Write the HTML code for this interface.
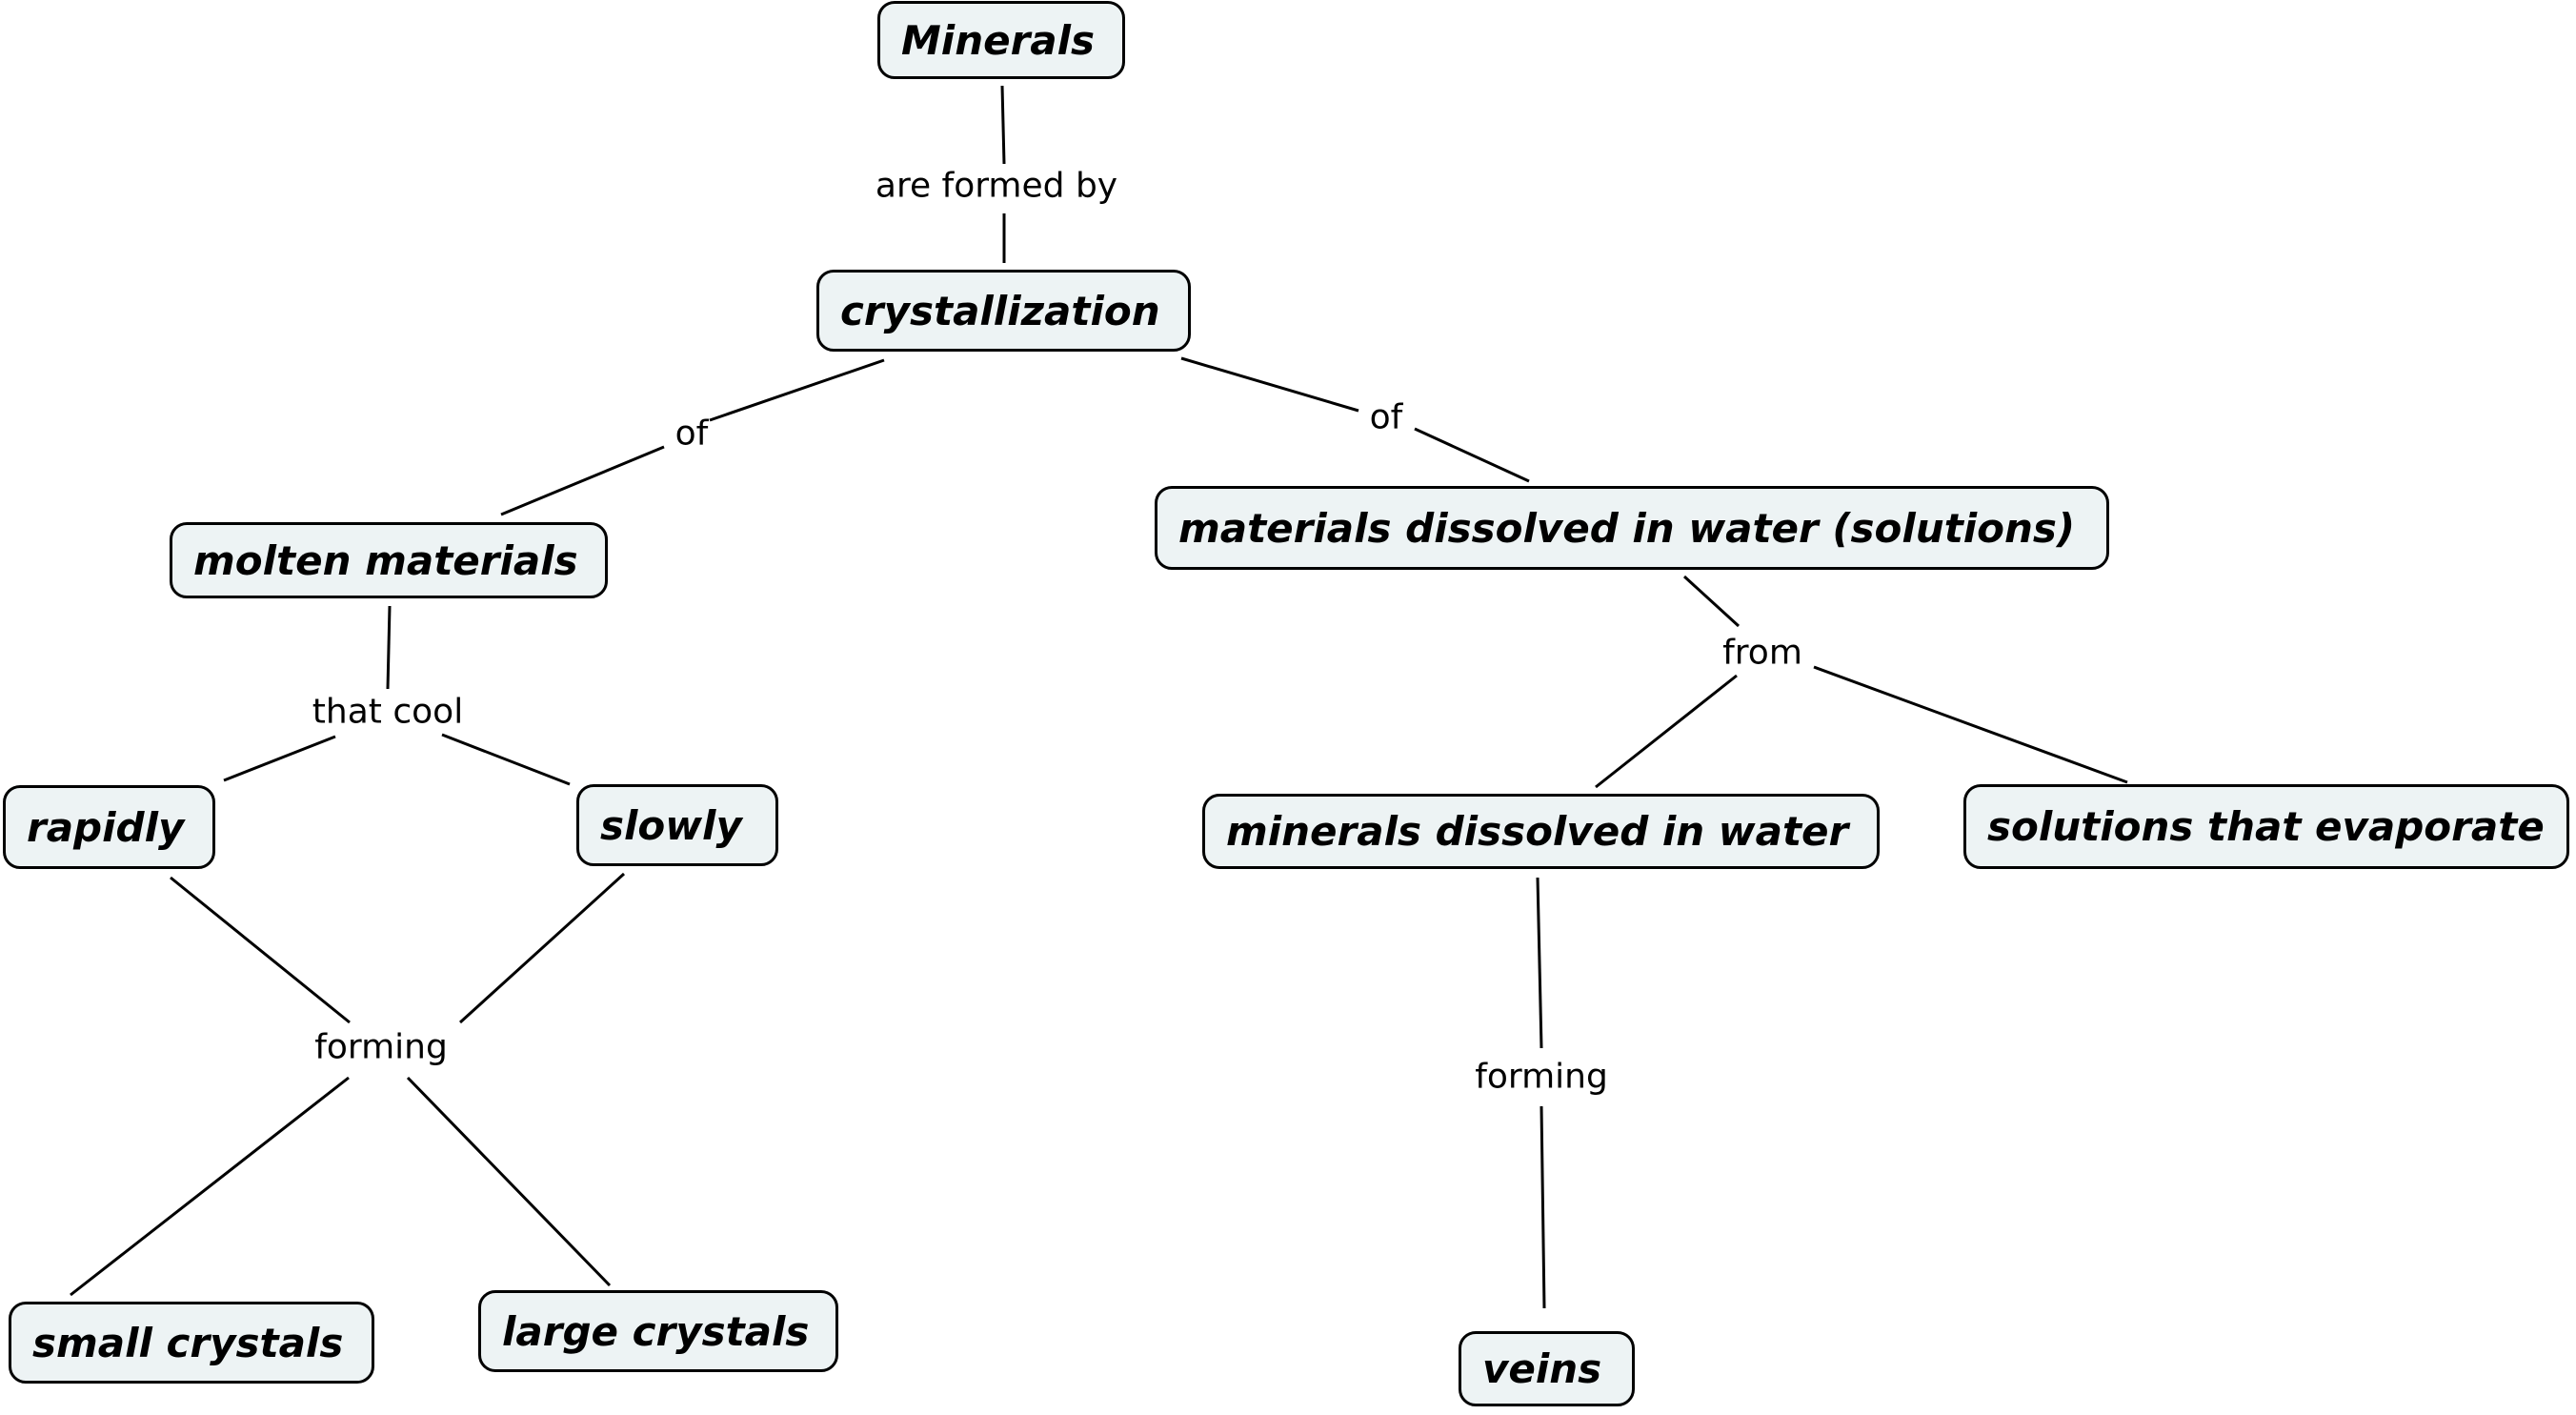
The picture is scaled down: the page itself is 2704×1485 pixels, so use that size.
<!DOCTYPE html>
<html><head><meta charset="utf-8"><style>
body{margin:0;width:2704px;height:1485px;background:#fff;position:relative;overflow:hidden}
.n{position:absolute;box-sizing:border-box;border:3px solid #000;border-radius:18px;background:#edf3f4;display:flex;align-items:center;padding-left:22px;font:italic bold 42px "DejaVu Sans",sans-serif;white-space:nowrap;color:#000}
.l{position:absolute;font:36px "DejaVu Sans",sans-serif;transform:translate(-50%,-50%);white-space:nowrap;color:#000}
svg{position:absolute;left:0;top:0}
</style></head><body>
<svg width="2704" height="1485" stroke="#000" stroke-width="3">
<line x1="1052" y1="90" x2="1054" y2="172"/><line x1="1054" y1="224" x2="1054" y2="276"/>
<line x1="928" y1="378" x2="745" y2="441"/><line x1="697" y1="469" x2="526" y2="540"/>
<line x1="1240" y1="376" x2="1426" y2="431"/><line x1="1485" y1="450" x2="1605" y2="505"/>
<line x1="409" y1="636" x2="407" y2="723"/>
<line x1="352" y1="773" x2="235" y2="819"/><line x1="464" y1="771" x2="598" y2="823"/>
<line x1="179" y1="921" x2="367" y2="1073"/><line x1="655" y1="917" x2="483" y2="1073"/>
<line x1="366" y1="1131" x2="74" y2="1359"/><line x1="428" y1="1131" x2="640" y2="1349"/>
<line x1="1768" y1="605" x2="1825" y2="657"/>
<line x1="1823" y1="709" x2="1675" y2="826"/><line x1="1904" y1="700" x2="2233" y2="821"/>
<line x1="1614" y1="921" x2="1618" y2="1100"/><line x1="1618" y1="1161" x2="1621" y2="1373"/>
</svg>
<div class="n" style="left:921px;top:1px;width:260px;height:82px">Minerals</div>
<div class="n" style="left:857px;top:283px;width:393px;height:86px">crystallization</div>
<div class="n" style="left:178px;top:548px;width:460px;height:80px">molten materials</div>
<div class="n" style="left:1212px;top:510px;width:1002px;height:88px">materials dissolved in water (solutions)</div>
<div class="n" style="left:3px;top:824px;width:223px;height:88px">rapidly</div>
<div class="n" style="left:605px;top:823px;width:212px;height:86px">slowly</div>
<div class="n" style="left:1262px;top:833px;width:711px;height:79px">minerals dissolved in water</div>
<div class="n" style="left:2061px;top:823px;width:636px;height:89px">solutions that evaporate</div>
<div class="n" style="left:9px;top:1366px;width:384px;height:86px">small crystals</div>
<div class="n" style="left:502px;top:1354px;width:378px;height:86px">large crystals</div>
<div class="n" style="left:1531px;top:1397px;width:185px;height:79px">veins</div>
<div class="l" style="left:1046px;top:195px">are formed by</div>
<div class="l" style="left:726px;top:455px">of</div>
<div class="l" style="left:1455px;top:438px">of</div>
<div class="l" style="left:407px;top:747px">that cool</div>
<div class="l" style="left:400px;top:1099px">forming</div>
<div class="l" style="left:1850px;top:685px">from</div>
<div class="l" style="left:1618px;top:1130px">forming</div>
</body></html>
